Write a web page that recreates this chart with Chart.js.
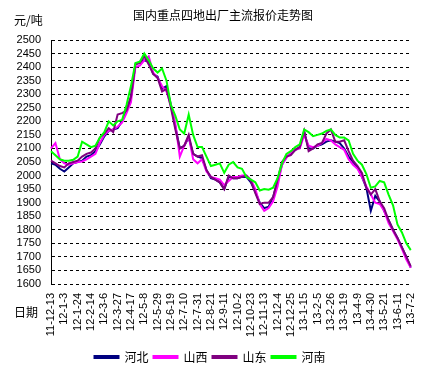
<!DOCTYPE html>
<html><head><meta charset="utf-8">
<script src="https://cdn.jsdelivr.net/npm/chart.js@4"></script>
<style>html,body{margin:0;padding:0;background:#fff;} #wrap{width:433px;height:370px;position:relative;}</style>
</head><body><div id="wrap"><canvas id="c"></canvas></div>
<script>
const titleText = '国内重点四地出厂主流报价走势图';
const yUnit = '元/吨';
const xName = '日期';
const seriesNames = ['河北', '山西', '山东', '河南'];
const seriesColors = ['#000080', '#FF00FF', '#800080', '#00FF00'];
// tick labels, every 3 weeks
const tickLabels = ['11-12-13','12-1-3','12-1-24','12-2-14','12-3-6','12-3-27','12-4-17','12-5-8','12-5-29','12-6-19','12-7-10','12-7-31','12-8-21','12-9-11','12-10-2','12-10-23','12-11-13','12-12-4','12-12-25','13-1-15','13-2-5','13-2-26','13-3-19','13-4-9','13-4-30','13-5-21','13-6-11','13-7-2'];
// weekly categories from 2011-12-13 to 2013-7-2
const categories = [];
(function(){ const d = new Date(2011, 11, 13); for (let i = 0; i < 82; i++) { categories.push(String(d.getFullYear()).slice(2) + '-' + (d.getMonth()+1) + '-' + d.getDate()); d.setDate(d.getDate()+7); } })();

const hebei = [2045,2040,2025,2015,2030,2045,2050,2055,2070,2075,2090,2115,2145,2165,2170,2175,2200,2240,2290,2410,2420,2425,2420,2375,2365,2320,2330,2260,2180,2100,2110,2140,2080,2070,2065,2020,1990,1985,1975,1950,1995,1990,1990,1995,1995,1975,1940,1900,1880,1885,1920,1980,2040,2070,2080,2095,2105,2160,2100,2100,2110,2115,2125,2130,2125,2120,2100,2070,2050,2030,1995,1955,1870,1925,1905,1870,1835,1800,1770,1735,1700,1660];
const shanxi = [2100,2120,2060,2045,2040,2045,2050,2052,2060,2070,2080,2120,2150,2165,2170,2180,2195,2230,2270,2400,2405,2425,2440,2380,2360,2330,2310,2260,2190,2070,2110,2145,2060,2045,2060,2015,1995,1990,1985,1965,1980,1995,1995,2000,2000,1985,1950,1895,1870,1880,1905,1960,2040,2065,2085,2095,2100,2150,2110,2105,2110,2120,2135,2130,2115,2105,2095,2060,2040,2025,1995,1960,1930,1900,1895,1870,1825,1795,1765,1730,1690,1660];
const shandong = [2055,2045,2035,2030,2045,2050,2055,2070,2080,2085,2100,2140,2155,2175,2160,2225,2230,2240,2290,2410,2415,2440,2410,2375,2360,2310,2320,2250,2170,2100,2110,2150,2080,2070,2075,2020,1995,1985,1975,1950,2000,1990,1990,1995,2000,1980,1935,1895,1900,1900,1920,1985,2050,2070,2075,2095,2105,2165,2090,2100,2115,2120,2155,2170,2125,2125,2130,2090,2055,2035,2010,1955,1930,1950,1905,1880,1835,1800,1770,1735,1700,1665];
const henan = [2090,2075,2060,2055,2055,2058,2070,2125,2115,2105,2110,2140,2160,2200,2185,2200,2205,2260,2330,2415,2420,2450,2425,2395,2380,2395,2350,2260,2220,2170,2155,2225,2150,2105,2105,2070,2035,2040,2045,2010,2040,2050,2030,2025,1995,1985,1975,1945,1950,1948,1955,1990,2045,2080,2090,2105,2115,2170,2160,2145,2150,2155,2165,2170,2150,2140,2140,2130,2080,2055,2040,2005,1955,1960,1980,1975,1930,1890,1820,1790,1750,1725];
const yMin = 1600, yMax = 2500, yStep = 50;

const cjk = '"Noto Sans CJK SC", sans-serif';
const textPlugin = {
  id: 'texts',
  afterDraw(chart) {
    const ctx = chart.ctx;
    ctx.save();
    ctx.fillStyle = '#000';
    ctx.font = '12px ' + cjk;
    ctx.textBaseline = 'middle';
    ctx.textAlign = 'center';
    ctx.fillText(titleText, 223, 15);
    ctx.textAlign = 'left';
    ctx.fillText(yUnit, 14, 20);
    ctx.fillText(xName, 14, 312);
    ctx.restore();
  }
};

const data = [hebei, shanxi, shandong, henan];
new Chart(document.getElementById('c'), {
  type: 'line',
  data: {
    labels: categories,
    datasets: data.map((d, i) => ({
      label: seriesNames[i],
      data: d,
      borderColor: seriesColors[i],
      backgroundColor: seriesColors[i],
      borderWidth: 2,
      pointRadius: 0,
      tension: 0,
      fill: false,
      order: 3 - i
    }))
  },
  options: {
    responsive: true,
    maintainAspectRatio: false,
    animation: false,
    devicePixelRatio: 1,
    layout: { padding: { top: 40, right: 13, left: 0, bottom: -3 } },
    plugins: {
      title: { display: false },
      tooltip: { enabled: false },
      legend: {
        position: 'bottom',
        labels: {
          boxWidth: 24, boxHeight: 2, padding: 5, color: '#000',
          font: { family: cjk, size: 12 },
          sort: (a, b) => a.datasetIndex - b.datasetIndex
        }
      }
    },
    scales: {
      x: {
        afterFit: (s) => { s.height = 62; },
        grid: { display: false, drawTicks: false },
        border: { display: false },
        ticks: {
          autoSkip: false, maxRotation: 90, minRotation: 90, padding: 9,
          color: '#000', font: { family: '"Liberation Sans", Arial, sans-serif', size: 11 },
          callback: function(v, i) { return i % 3 === 0 ? tickLabels[i / 3] : ''; }
        }
      },
      y: {
        min: yMin, max: yMax,
        afterFit: (s) => { s.width = 51; },
        grid: { color: '#000', lineWidth: 1, drawTicks: false },
        border: { display: true, color: '#000', width: 1, dash: [3, 3] },
        ticks: {
          stepSize: yStep, autoSkip: false, padding: 10, color: '#000',
          font: { family: '"Liberation Sans", Arial, sans-serif', size: 11 },
          callback: (v) => String(v)
        }
      }
    }
  },
  plugins: [textPlugin]
});
</script>
</body></html>
